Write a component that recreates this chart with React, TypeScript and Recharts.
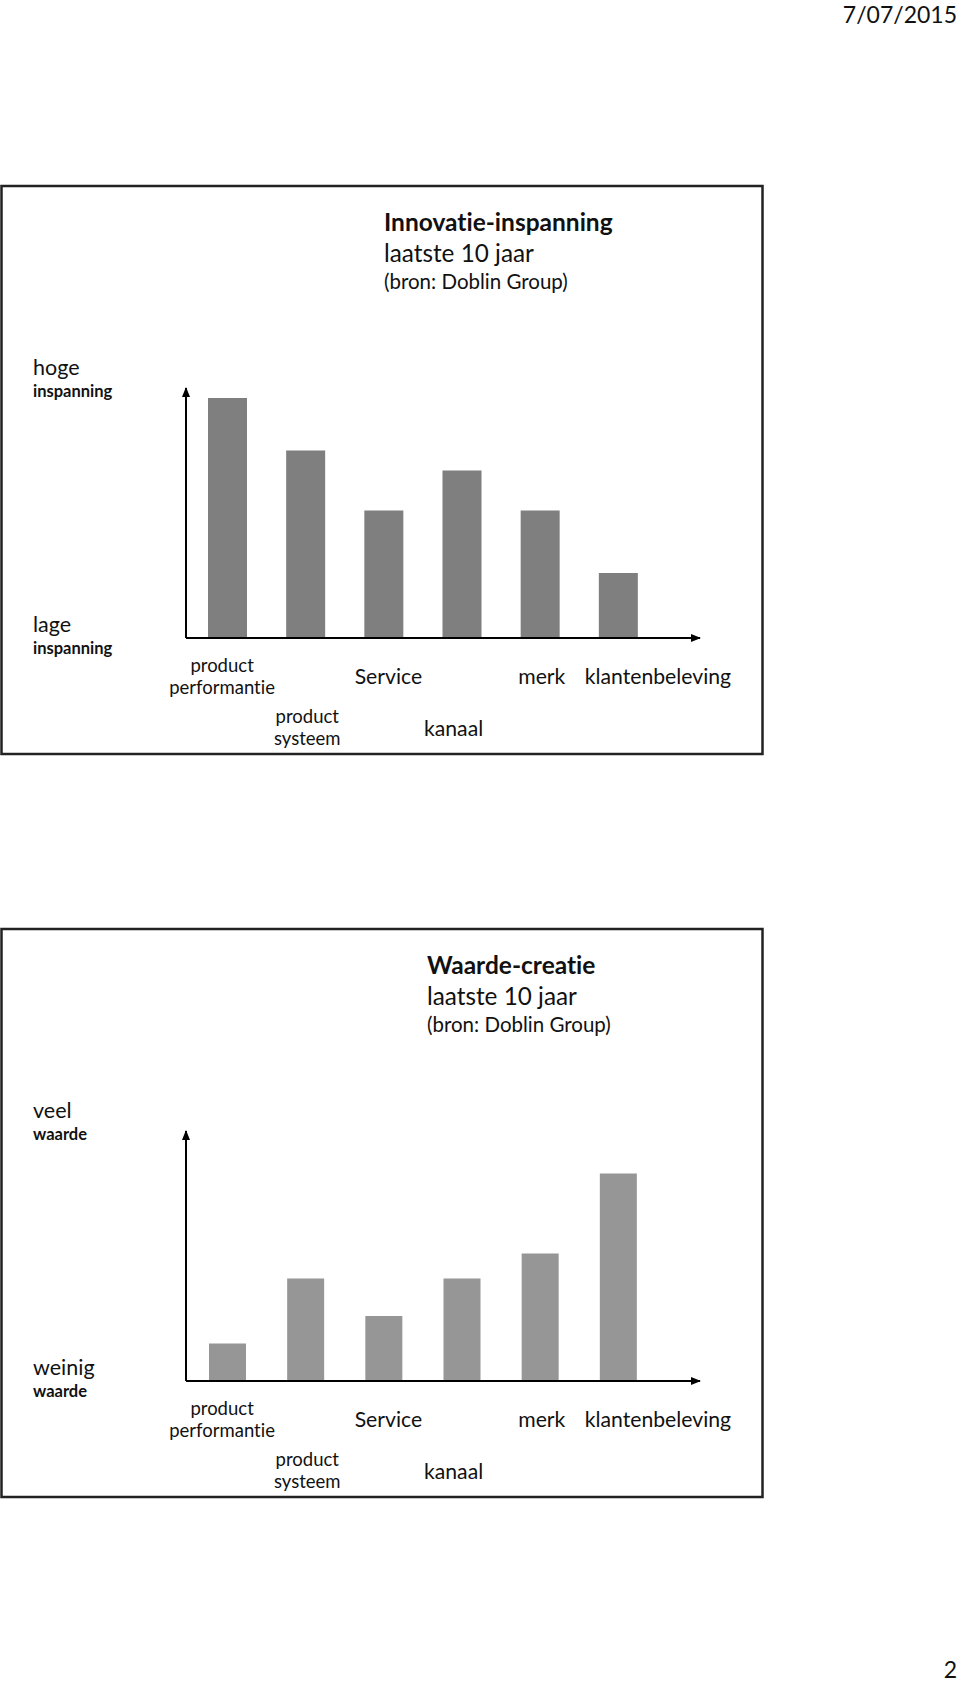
import { BarChart, Bar, XAxis, YAxis } from "recharts";

// categories shared by both panels ("\n" = line break in the tick label)
const categories = [
  "product\nperformantie",
  "product\nsysteem",
  "Service",
  "kanaal",
  "merk",
  "klantenbeleving",
];

// Innovatie-inspanning (0 = lage, 100 = hoge inspanning)
const effortValues = [96, 75, 51, 67, 51, 26];
// Waarde-creatie (0 = weinig, 100 = veel waarde)
const valueValues = [15, 41, 26, 41, 51, 83];

const effortData = categories.map((name, i) => ({ name, value: effortValues[i] }));
const valueData = categories.map((name, i) => ({ name, value: valueValues[i] }));

const FONT = "Lato, 'Open Sans', sans-serif";
const noLiga = { fontVariantLigatures: "none" as const };

// tick label layout: second row for product systeem / kanaal, small two-line labels
const lowered = [false, true, false, true, false, false];
const tickShift = [-5, 2, 5, -8, 2, 40];

function CategoryTick(props: any) {
  const { x, y, payload, index } = props;
  const lines = String(payload.value).split("\n");
  const twoLine = lines.length > 1;
  const low = lowered[index];
  const fontSize = twoLine ? 18.5 : 21.2;
  const firstY = twoLine ? (low ? 78 : 27) : low ? 90 : 38;
  return (
    <g transform={`translate(${x + (tickShift[index] || 0)},${y})`}>
      {lines.map((line, i) => (
        <text
          key={i}
          x={0}
          y={firstY + i * 22}
          textAnchor="middle"
          dominantBaseline="central"
          fontFamily={FONT}
          fontSize={fontSize}
          fill="#111"
          style={noLiga}
        >
          {line}
        </text>
      ))}
    </g>
  );
}

interface PanelProps {
  top: number;
  title: string;
  titleX: number;
  data: { name: string; value: number }[];
  color: string;
  barSize: number;
  highLabel: [string, string];
  lowLabel: [string, string];
}

function Panel({ top, title, titleX, data, color, barSize, highLabel, lowLabel }: PanelProps) {
  // top = y of the box's top edge on the page
  const plotTop = top + 202;
  return (
    <>
      <svg
        width={960}
        height={580}
        style={{ position: "absolute", left: 0, top: top - 2 }}
      >
        <rect x={1.5} y={2} width={761} height={568} fill="none" stroke="#222" strokeWidth={2.5} />
        <g fontFamily={FONT} fill="#111" dominantBaseline="central" style={noLiga}>
          <text x={titleX} y={37} fontSize={24.5} fontWeight={700}>{title}</text>
          <text x={titleX} y={68} fontSize={24.3}>laatste 10 jaar</text>
          <text x={titleX} y={97} fontSize={20.5}>(bron: Doblin Group)</text>
          <text x={33} y={183} fontSize={21.5}>{highLabel[0]}</text>
          <text x={33} y={207} fontSize={16.5} fontWeight={700}>{highLabel[1]}</text>
          <text x={33} y={440} fontSize={21.5}>{lowLabel[0]}</text>
          <text x={33} y={464} fontSize={16.5} fontWeight={700}>{lowLabel[1]}</text>
        </g>
      </svg>
      <div style={{ position: "absolute", left: 150, top: plotTop - 28 }}>
        <BarChart
          width={600}
          height={420}
          data={data}
          margin={{ top: 28, right: 50, left: 35, bottom: 22 }}
          barCategoryGap={0}
        >
          <XAxis
            dataKey="name"
            interval={0}
            height={120}
            padding={{ left: 2, right: 43 }}
            tickLine={false}
            tickSize={0}
            tickMargin={0}
            axisLine={{ stroke: "#000", strokeWidth: 2, markerEnd: "url(#arrowHead)" }}
            tick={<CategoryTick />}
          />
          <YAxis
            width={1}
            domain={[0, 100]}
            tick={false}
            tickLine={false}
            axisLine={{ stroke: "#000", strokeWidth: 2, markerStart: "url(#arrowHead)" }}
          />
          <Bar dataKey="value" fill={color} barSize={barSize} isAnimationActive={false} />
        </BarChart>
      </div>
    </>
  );
}

export default function App() {
  return (
    <div
      style={{
        position: "absolute",
        left: 0,
        top: 0,
        width: 960,
        height: 1684,
        background: "#fff",
        fontFamily: FONT,
        overflow: "hidden",
      }}
    >
      <svg width={0} height={0} style={{ position: "absolute" }}>
        <defs>
          <marker
            id="arrowHead"
            viewBox="0 0 10 8"
            refX={9}
            refY={4}
            markerWidth={10}
            markerHeight={8}
            markerUnits="userSpaceOnUse"
            orient="auto-start-reverse"
          >
            <path d="M0,0 L10,4 L0,8 z" fill="#000" />
          </marker>
        </defs>
      </svg>

      <div style={{ position: "absolute", right: 3, top: 0, fontSize: 23, lineHeight: "28px", color: "#111" }}>
        7/07/2015
      </div>

      <Panel
        top={186}
        title="Innovatie-inspanning"
        titleX={384}
        data={effortData}
        color="#7f7f7f"
        barSize={39}
        highLabel={["hoge", "inspanning"]}
        lowLabel={["lage", "inspanning"]}
      />

      <Panel
        top={929}
        title="Waarde-creatie"
        titleX={427}
        data={valueData}
        color="#969696"
        barSize={37}
        highLabel={["veel", "waarde"]}
        lowLabel={["weinig", "waarde"]}
      />

      <div style={{ position: "absolute", right: 3, top: 1656, fontSize: 23, lineHeight: "26px", color: "#111" }}>
        2
      </div>
    </div>
  );
}
